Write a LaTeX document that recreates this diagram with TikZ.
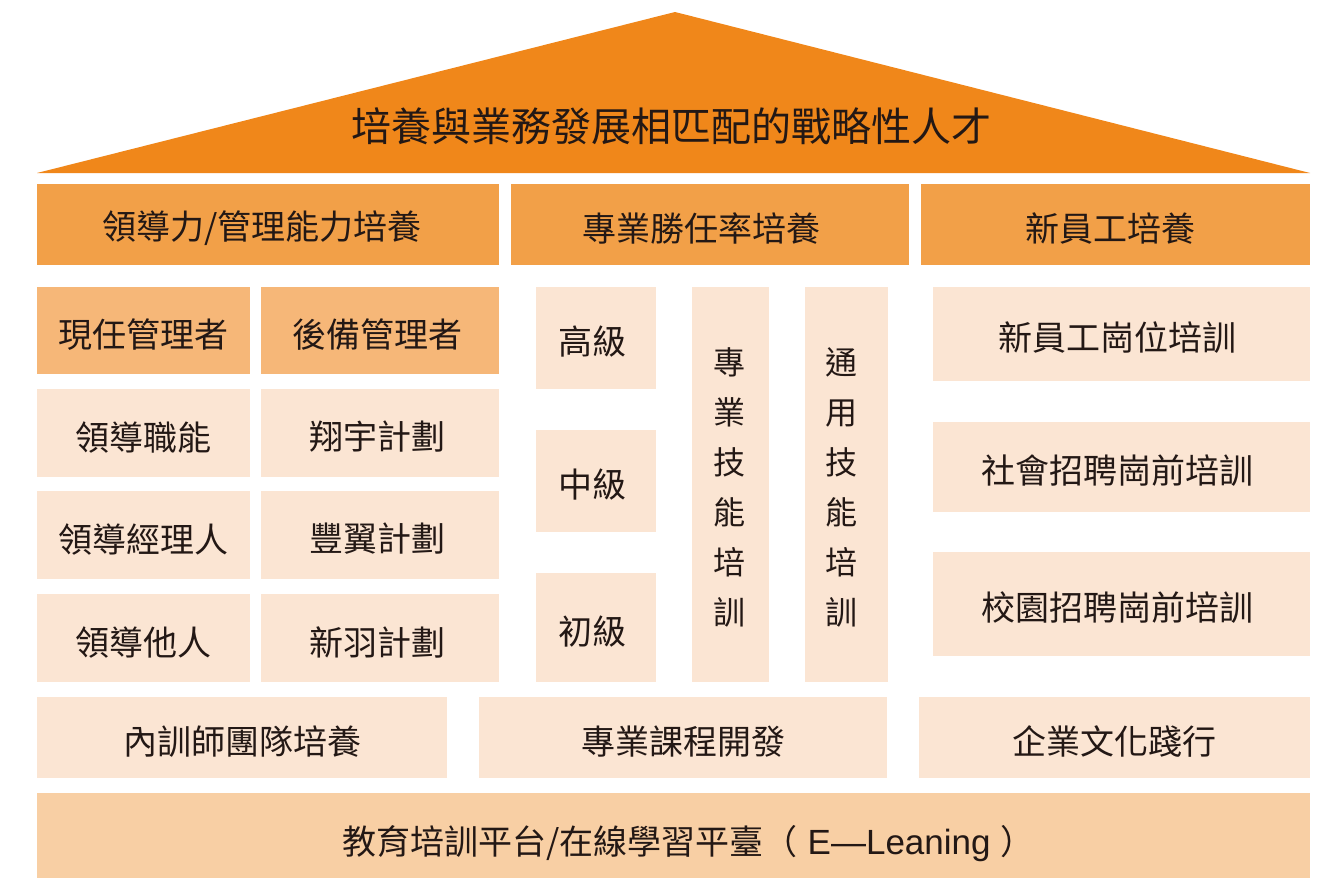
\documentclass[tikz,border=0pt]{standalone}
\usepackage{fontspec}
\setmainfont{Noto Sans CJK TC}
\newfontfamily\latfont{Liberation Sans}
\usetikzlibrary{fit}
\definecolor{roofc}{HTML}{F0871A}
\definecolor{headc}{HTML}{F2A048}
\definecolor{mgrc}{HTML}{F6B778}
\definecolor{cellc}{HTML}{FBE5D3}
\definecolor{basec}{HTML}{F8CFA4}
\definecolor{txtc}{HTML}{231815}
\tikzset{
  box/.style={inner sep=0pt, outer sep=0pt, text=txtc, align=center, font=\fontsize{34}{40}\selectfont},
  lbl/.style={box, yshift=-4pt},
  headbox/.style={box, fill=headc},
  mgrbox/.style={box, fill=mgrc},
  cellbox/.style={box, fill=cellc},
  basebox/.style={box, fill=basec},
  vertlbl/.style={box, font=\fontsize{32}{50}\selectfont, yshift=-3pt},
}
\begin{document}
\begin{tikzpicture}[x=1pt,y=-1pt]
\useasboundingbox[fill=white] (0,0) rectangle (1325,878);
% roof
\fill[roofc] (37,173) -- (675,12) -- (1310,173) -- cycle;
\node[box, font=\fontsize{40}{44}\selectfont] (title) at (671,126) {培養與業務發展相匹配的戰略性人才};
% headers
\node[headbox, fit={(37,184)(499,265)}] (h1) {};
\node[lbl] (t-h1) at ([xshift=-6pt]h1.center) {領導力/管理能力培養};
\node[headbox, fit={(511,184)(909,265)}] (h2) {};
\node[lbl] (t-h2) at ([xshift=-9pt]h2.center) {專業勝任率培養};
\node[headbox, fit={(921,184)(1310,265)}] (h3) {};
\node[lbl] (t-h3) at ([xshift=-5pt]h3.center) {新員工培養};
% leadership
\node[mgrbox, fit={(37,287)(250,374)}] (a1) {};
\node[lbl] (t-a1) at (a1.center) {現任管理者};
\node[mgrbox, fit={(261,287)(499,374)}] (b1) {};
\node[lbl] (t-b1) at ([xshift=-3pt]b1.center) {後備管理者};
\node[cellbox, fit={(37,389)(250,477)}] (a2) {};
\node[lbl] (t-a2) at (a2.center) {領導職能};
\node[cellbox, fit={(261,389)(499,477)}] (b2) {};
\node[lbl] (t-b2) at ([xshift=-3pt]b2.center) {翔宇計劃};
\node[cellbox, fit={(37,491)(250,579)}] (a3) {};
\node[lbl] (t-a3) at (a3.center) {領導經理人};
\node[cellbox, fit={(261,491)(499,579)}] (b3) {};
\node[lbl] (t-b3) at ([xshift=-3pt]b3.center) {豐翼計劃};
\node[cellbox, fit={(37,594)(250,682)}] (a4) {};
\node[lbl] (t-a4) at (a4.center) {領導他人};
\node[cellbox, fit={(261,594)(499,682)}] (b4) {};
\node[lbl] (t-b4) at ([xshift=-3pt]b4.center) {新羽計劃};
% professional
\node[cellbox, fit={(536,287)(656,389)}] (m1) {};
\node[lbl] (t-m1) at ([xshift=-4pt]m1.center) {高級};
\node[cellbox, fit={(536,430)(656,532)}] (m2) {};
\node[lbl] (t-m2) at ([xshift=-4pt]m2.center) {中級};
\node[cellbox, fit={(536,573)(656,682)}] (m3) {};
\node[lbl] (t-m3) at ([xshift=-4pt]m3.center) {初級};
\node[cellbox, fit={(692,287)(769,682)}] (v1) {};
\node[vertlbl] (t-v1) at ([xshift=-1pt]v1.center) {專\\業\\技\\能\\培\\訓};
\node[cellbox, fit={(805,287)(888,682)}] (v2) {};
\node[vertlbl] (t-v2) at ([xshift=-5pt]v2.center) {通\\用\\技\\能\\培\\訓};
% new staff
\node[cellbox, fit={(933,287)(1310,381)}] (r1) {};
\node[lbl] (t-r1) at ([xshift=-4pt]r1.center) {新員工崗位培訓};
\node[cellbox, fit={(933,422)(1310,512)}] (r2) {};
\node[lbl] (t-r2) at ([xshift=-4pt]r2.center) {社會招聘崗前培訓};
\node[cellbox, fit={(933,552)(1310,656)}] (r3) {};
\node[lbl] (t-r3) at ([xshift=-4pt]r3.center) {校園招聘崗前培訓};
% foundation
\node[cellbox, fit={(37,697)(447,778)}] (f1) {};
\node[lbl] (t-f1) at (f1.center) {內訓師團隊培養};
\node[cellbox, fit={(479,697)(887,778)}] (f2) {};
\node[lbl] (t-f2) at (f2.center) {專業課程開發};
\node[cellbox, fit={(919,697)(1310,778)}] (f3) {};
\node[lbl] (t-f3) at (f3.center) {企業文化踐行};
\node[basebox, fit={(37,793)(1310,878)}] (base) {};
\node[box, yshift=-8pt] (t-base) at ([xshift=15pt]base.center) {教育培訓平台/在線學習平臺（{\latfont\fontsize{35}{40}\selectfont\ E—Leaning\ }）};
\end{tikzpicture}
\end{document}
